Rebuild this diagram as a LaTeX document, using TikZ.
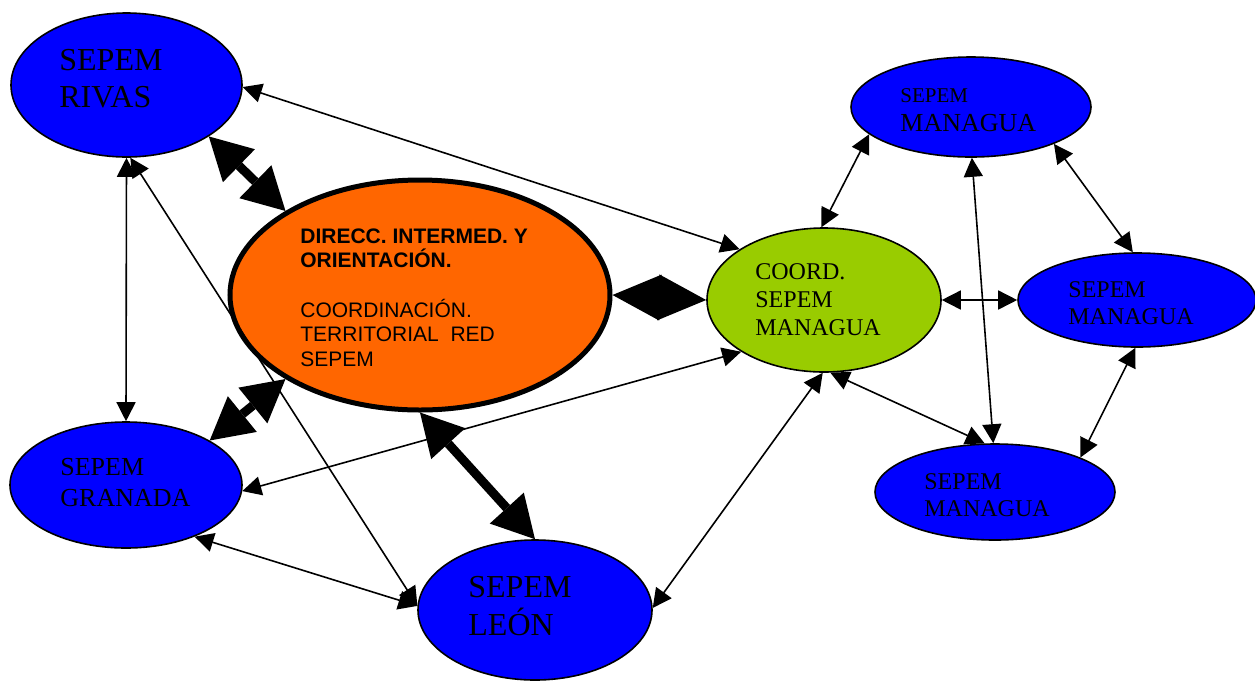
\documentclass[tikz,border=0pt]{standalone}
\usepackage{fontspec}
\setmainfont{Liberation Serif}
\setsansfont{Liberation Sans}
\usetikzlibrary{arrows.meta,shapes.geometric}
\definecolor{sepemblue}{RGB}{0,0,255}
\definecolor{direcorange}{RGB}{255,102,0}
\definecolor{coordgreen}{RGB}{153,204,0}

\begin{document}
\begin{tikzpicture}[x=0.5pt,y=-0.5pt,
  sepem/.style={ellipse,draw,line width=0.8pt,fill=sepemblue,inner sep=0pt},
  txt/.style={anchor=base west,align=left,inner sep=0pt},
  link/.style={line width=0.8pt,>={Triangle[length=9.5pt,width=9.5pt]},<->},
  fat/.style={line width=4.5pt,>={Triangle[length=21pt,width=23pt,line width=0pt]},<->}]
  \useasboundingbox (0,0) rectangle (1255,682);

  \node[sepem,minimum width=115.5pt,minimum height=72pt] (rivas) at (126.5,85) {};
  \node[sepem,minimum width=116pt,minimum height=63pt] (granada) at (126,485) {};
  \node[sepem,minimum width=117pt,minimum height=70pt] (leon) at (535,610) {};
  \node[sepem,minimum width=120pt,minimum height=50pt] (mtop) at (971,107) {};
  \node[sepem,minimum width=119pt,minimum height=47pt] (mright) at (1137,300) {};
  \node[sepem,minimum width=120pt,minimum height=48pt] (mbot) at (995,492) {};
  \node[ellipse,draw,line width=2.5pt,fill=direcorange,minimum width=190pt,minimum height=115pt,inner sep=0pt] (direc) at (420,295) {};
  \node[ellipse,draw,line width=0.8pt,fill=coordgreen,minimum width=117pt,minimum height=72pt,inner sep=0pt] (coord) at (824,300) {};

  % text sits on the baseline of its last line
  \node[txt,font=\fontsize{16}{18.5}\selectfont] (rivastxt) at (59,107) {SEPEM\\RIVAS};
  \node[txt,font=\fontsize{13}{15.5}\selectfont] (granadatxt) at (60,506) {SEPEM\\GRANADA};
  \node[txt,font=\fontsize{16}{19}\selectfont] (leontxt) at (468,635) {SEPEM\\LEÓN};
  \node[txt,font=\fontsize{13}{14.5}\selectfont] (mtoptxt) at (900,131) {{\fontsize{10.5}{12}\selectfont SEPEM}\\MANAGUA};
  \node[txt,font=\fontsize{12}{13.5}\selectfont] (mrighttxt) at (1068,324) {SEPEM\\MANAGUA};
  \node[txt,font=\fontsize{12}{13.5}\selectfont] (mbottxt) at (924,516) {SEPEM\\MANAGUA};
  \node[txt,font=\fontsize{12}{14}\selectfont] (coordtxt) at (755,335) {COORD.\\SEPEM\\MANAGUA};
  \node[txt,font=\sffamily\fontsize{10.5}{12.25}\selectfont] (directxt) at (300,366)
    {\textbf{DIRECC. INTERMED. Y}\\\textbf{ORIENTACIÓN.}\\[12.3pt]COORDINACIÓN.\\TERRITORIAL\ \ RED\\SEPEM};

  % thin links
  \draw[link] (rivas.-1) -- (coord.149);
  \draw[link] (rivas.south) -- (granada.north);
  \draw[link] (rivas.-87) -- (leon.178);
  \draw[link] (granada.-3) -- (coord.-148);
  \draw[link] (granada.-37) -- (leon.178);
  \draw[link] (leon.1) -- (coord.-91);
  \draw[link] (coord.92) -- (mtop.-165);
  \draw[link] (coord.east) -- (mright.west);
  \draw[link] (coord.-85) -- (mbot.102);
  \draw[link] (mtop.-89) -- (mbot.92);
  \draw[link] (mtop.-24) -- (mright.95);
  \draw[link] (mright.-92) -- (mbot.22);

  % thick links to the centre
  \draw[fat] (rivas.-32) -- (direc.148);
  \draw[fat,>={Triangle[length=24pt,width=23pt,line width=0pt]}] (direc.east) -- (coord.west);
  \draw[fat] (granada.28) -- (direc.-148);
  \draw[fat] (direc.south) -- (leon.north);
\end{tikzpicture}
\end{document}
